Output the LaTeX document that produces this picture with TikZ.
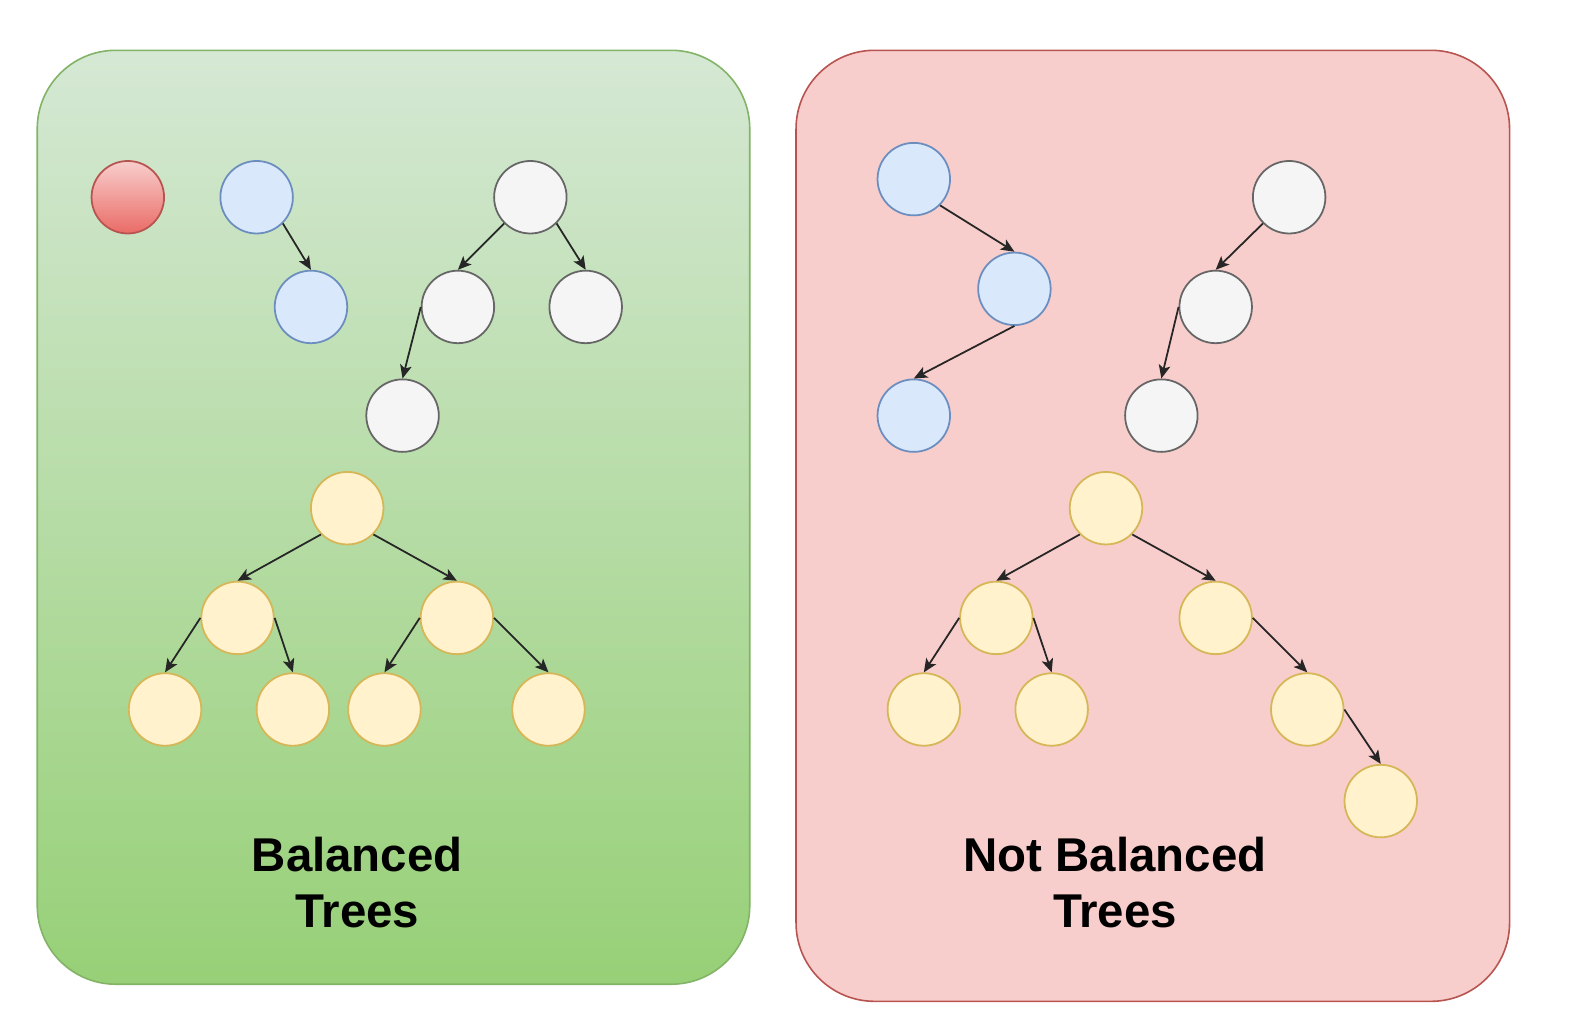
\documentclass[tikz,border=0pt]{standalone}
\usepackage{fontspec}
\setmainfont{Liberation Sans}
\usetikzlibrary{arrows.meta}

\definecolor{greentop}{HTML}{D5E8D4}
\definecolor{greenbot}{HTML}{97D077}
\definecolor{greenline}{HTML}{82B366}
\definecolor{redfill}{HTML}{F8CECC}
\definecolor{redline}{HTML}{B85450}
\definecolor{redbot}{HTML}{EA6B66}
\definecolor{bluefill}{HTML}{DAE8FC}
\definecolor{blueline}{HTML}{6C8EBF}
\definecolor{greyfill}{HTML}{F5F5F5}
\definecolor{greyline}{HTML}{666666}
\definecolor{yelfill}{HTML}{FFF2CC}
\definecolor{yelline}{HTML}{D6B656}

\tikzset{
  vert/.style={circle,draw,line width=0.5pt,minimum size=0.72cm,inner sep=0pt},
  bluev/.style={vert,fill=bluefill,draw=blueline},
  greyv/.style={vert,fill=greyfill,draw=greyline},
  yelv/.style={vert,fill=yelfill,draw=yelline},
  redv/.style={vert,top color=redfill,bottom color=redbot,draw=redline},
  edge/.style={-{Stealth[length=3.8pt,width=3.3pt,inset=0.9pt]},line width=0.5pt,draw=black!85},
  title/.style={font=\fontsize{13.4}{15.9}\selectfont\bfseries,align=center}
}

\begin{document}
\begin{tikzpicture}[x=0.01cm,y=-0.01cm]
    \useasboundingbox[fill=white] (0,0) rectangle (1568,1019);
    % panels
    \draw[greenline,line width=0.45pt,rounded corners=0.78cm,top color=greentop,bottom color=greenbot]
        (37,50) rectangle (745,978);
    \draw[redline,line width=0.45pt,rounded corners=0.78cm,fill=redfill]
        (791,50) rectangle (1500,995);

    % balanced
    \node[redv] (r0) at (127,196) {};
    \node[bluev] (b1) at (255,196) {};
    \node[bluev] (b2) at (309,305) {};
    \node[greyv] (w1) at (527,196) {};
    \node[greyv] (w2) at (455,305) {};
    \node[greyv] (w3) at (582,305) {};
    \node[greyv] (w4) at (400,413) {};
    \node[yelv] (y1) at (345,505) {};
    \node[yelv] (y2) at (236,614) {};
    \node[yelv] (y3) at (454,614) {};
    \node[yelv] (y4) at (164,705) {};
    \node[yelv] (y5) at (291,705) {};
    \node[yelv] (y6) at (382,705) {};
    \node[yelv] (y7) at (545,705) {};
    \draw[edge] (b1.south east) -- (b2.north);
    \draw[edge] (w1.south west) -- (w2.north);
    \draw[edge] (w1.south east) -- (w3.north);
    \draw[edge] (w2.west) -- (w4.north);
    \draw[edge] (y1.south west) -- (y2.north);
    \draw[edge] (y1.south east) -- (y3.north);
    \draw[edge] (y2.west) -- (y4.north);
    \draw[edge] (y2.east) -- (y5.north);
    \draw[edge] (y3.west) -- (y6.north);
    \draw[edge] (y3.east) -- (y7.north);
    \node[title] (t1) at (355,877) {Balanced\\Trees};

    % not balanced
    \node[bluev] (nb1) at (908,178) {};
    \node[bluev] (nb2) at (1008,287) {};
    \node[bluev] (nb3) at (908,413) {};
    \node[greyv] (nw1) at (1281,196) {};
    \node[greyv] (nw2) at (1208,305) {};
    \node[greyv] (nw3) at (1154,413) {};
    \node[yelv] (ny1) at (1099,505) {};
    \node[yelv] (ny2) at (990,614) {};
    \node[yelv] (ny3) at (1208,614) {};
    \node[yelv] (ny4) at (918,705) {};
    \node[yelv] (ny5) at (1045,705) {};
    \node[yelv] (ny6) at (1299,705) {};
    \node[yelv] (ny7) at (1372,796) {};
    \draw[edge] (nb1.south east) -- (nb2.north);
    \draw[edge] (nb2.south) -- (nb3.north);
    \draw[edge] (nw1.south west) -- (nw2.north);
    \draw[edge] (nw2.west) -- (nw3.north);
    \draw[edge] (ny1.south west) -- (ny2.north);
    \draw[edge] (ny1.south east) -- (ny3.north);
    \draw[edge] (ny2.west) -- (ny4.north);
    \draw[edge] (ny2.east) -- (ny5.north);
    \draw[edge] (ny3.east) -- (ny6.north);
    \draw[edge] (ny6.east) -- (ny7.north);
    \node[title] (t2) at (1108,877) {Not Balanced\\Trees};
\end{tikzpicture}
\end{document}
